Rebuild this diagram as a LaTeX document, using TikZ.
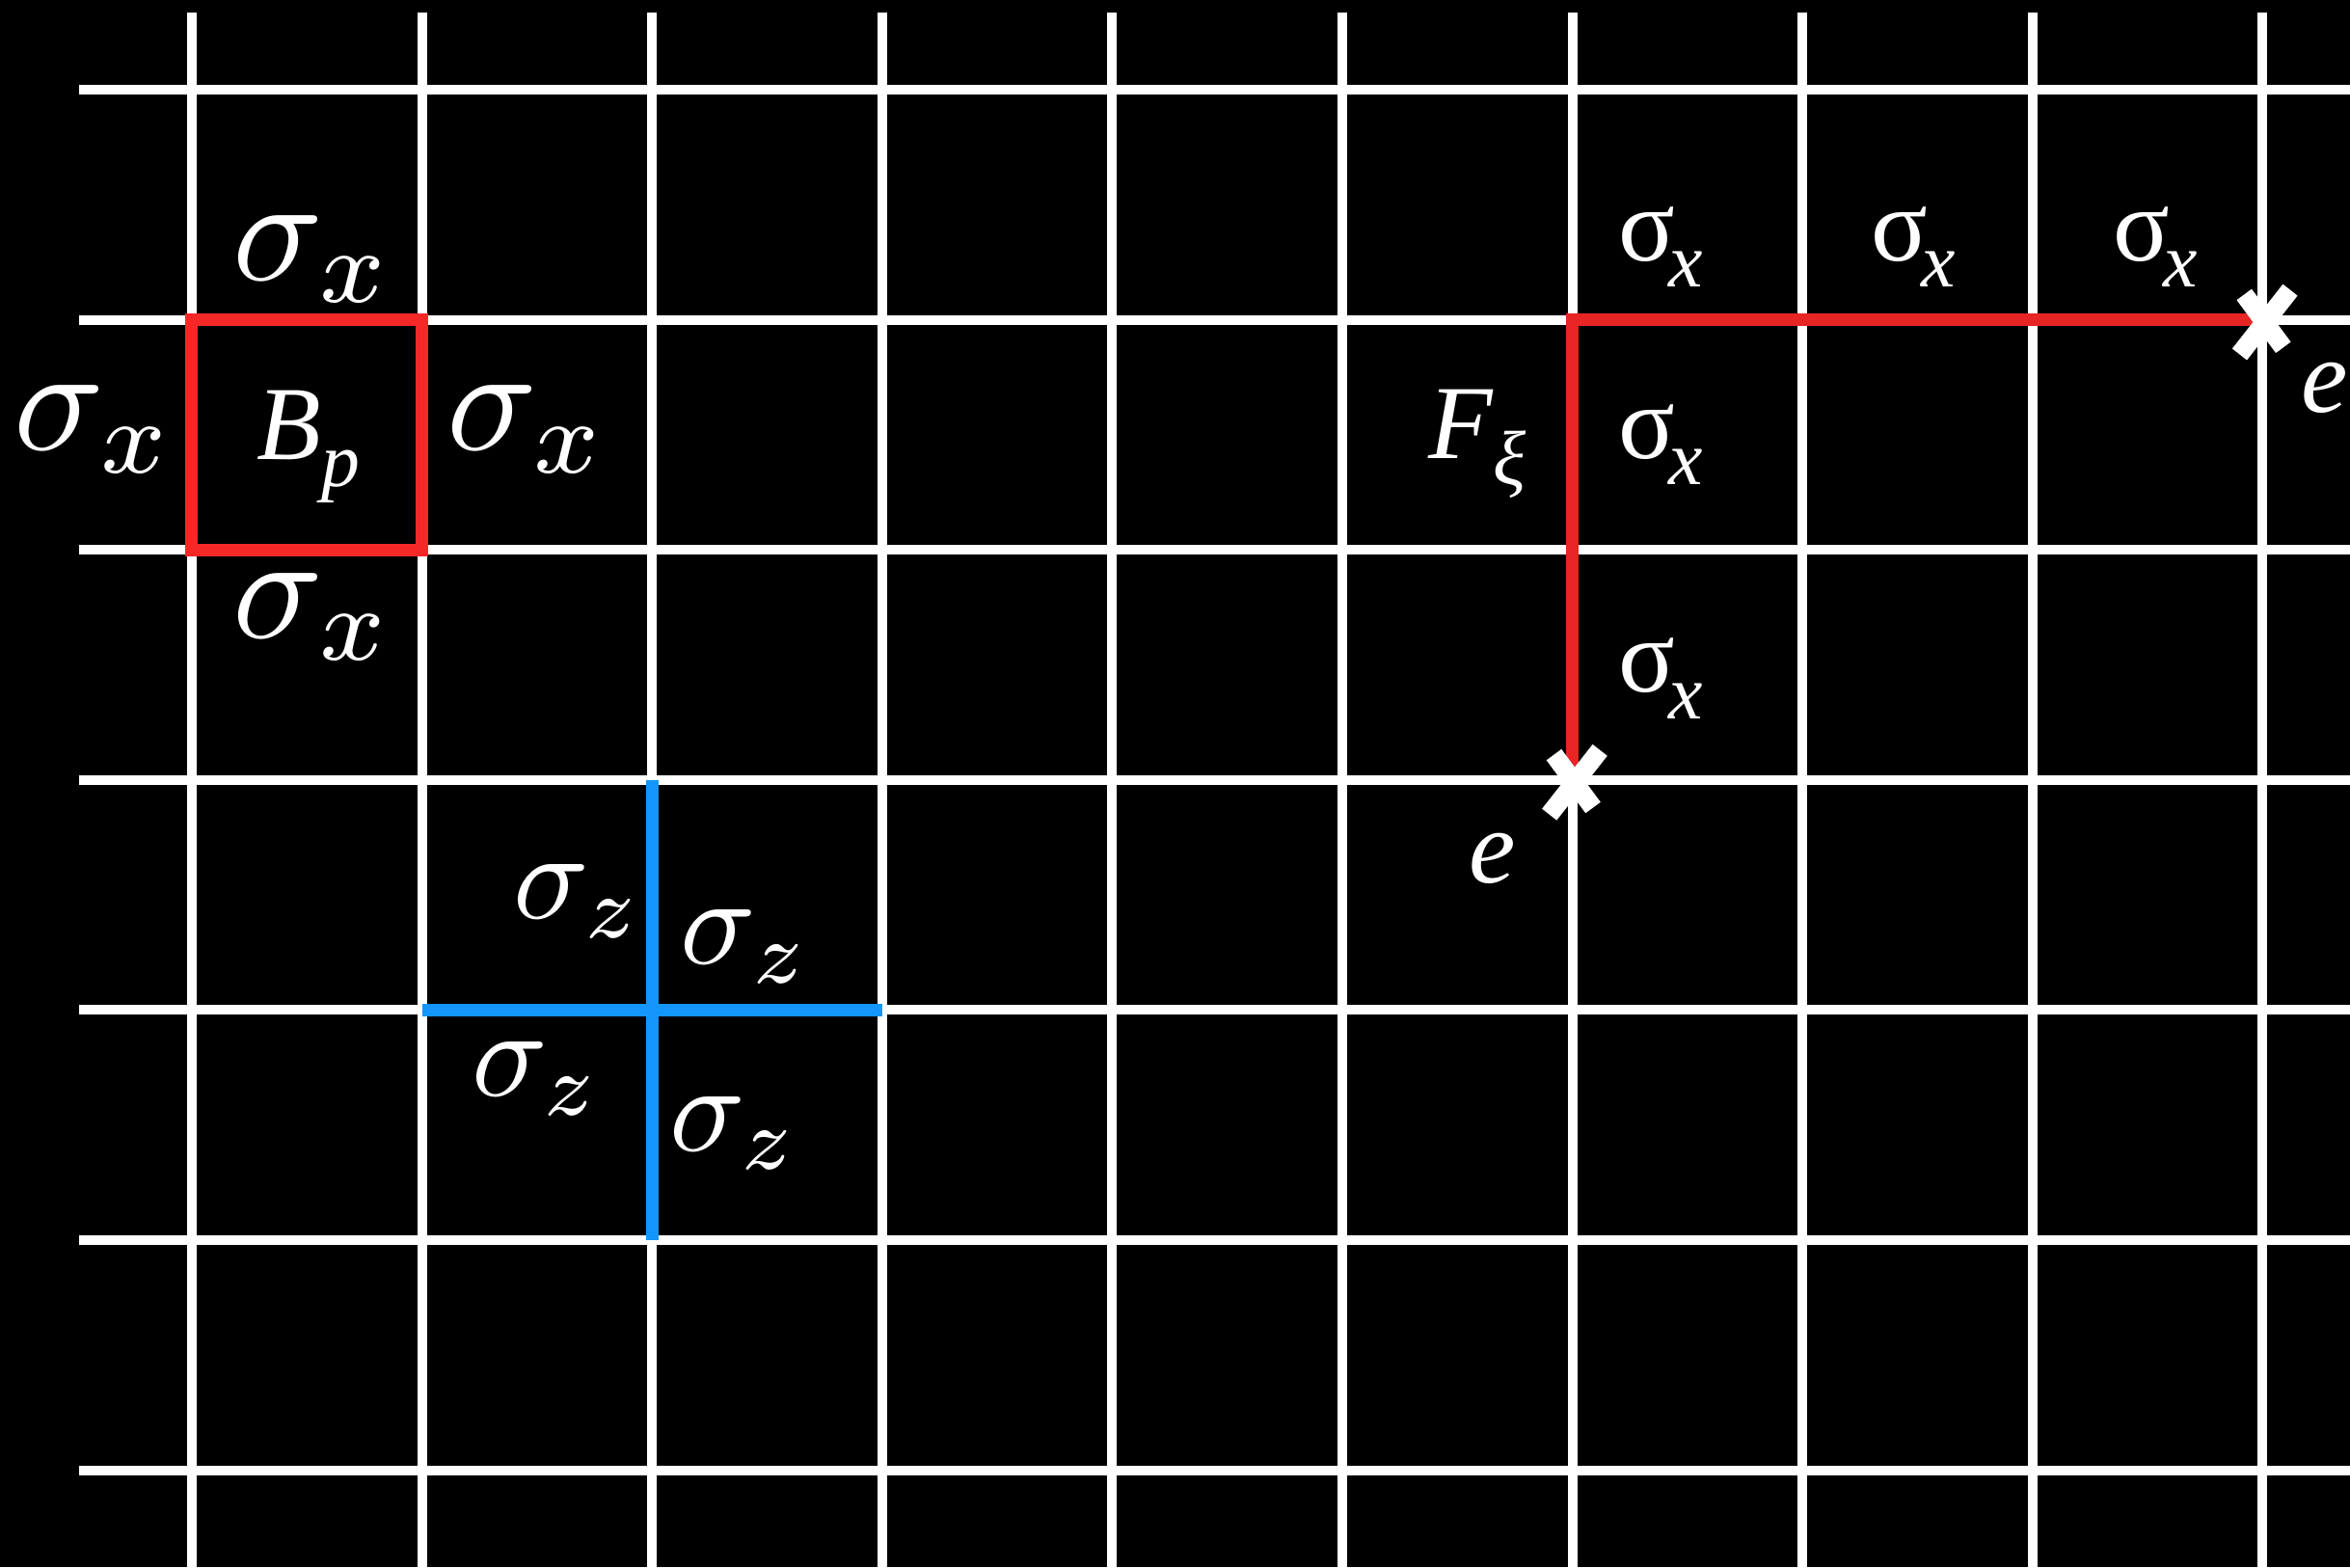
\documentclass[tikz,border=0pt]{standalone}
\usepackage{graphicx}
\usepackage{fontspec}
\newfontfamily\tnr{Liberation Serif}
\definecolor{plaqred}{RGB}{245, 40, 40}
\definecolor{stringred}{RGB}{232, 36, 36}
\definecolor{starblue}{RGB}{20, 150, 250}
\newcommand{\subsc}[1]{\raisebox{-0.25em}{\fontsize{9.5}{9.5}\selectfont #1}}
\newcommand{\tsigx}{{\upshape σ}\kern-0.06em\subsc{x}}

\begin{document}
\begin{tikzpicture}[
		lattice/.style={white, line width=1.19pt},
		oper/.style={line width=1.55pt},
		emark/.style={white, line width=2.3pt},
		lbl/.style={text=white, inner sep=0pt, anchor=base west},
		tms/.style={lbl, font=\fontsize{13}{15}\selectfont\tnr\itshape}
	]
		\fill[black] (-0.834,-6.421) rectangle (9.380,0.390);
		\useasboundingbox (-0.834,-6.421) rectangle (9.380,0.390);

		% lattice
		\foreach \i in {0,...,9}
			\draw[lattice] (\i,0.335) -- (\i,-6.5);
		\foreach \j in {0,...,6}
			\draw[lattice] (-0.49,-\j) -- (9.5,-\j);

		% plaquette
		\draw[oper, plaqred] (0,-1) rectangle (1,-2);
		\node[tms] (bp) at (0.277,-1.609) {B\subsc{p}};
		\node[lbl] (sxtop) at (0.172,-0.826) {\scalebox{1.85}{$\sigma_x$}};
		\node[lbl] (sxleft) at (-0.780,-1.567) {\scalebox{1.85}{$\sigma_x$}};
		\node[lbl] (sxright) at (1.102,-1.567) {\scalebox{1.85}{$\sigma_x$}};
		\node[lbl] (sxbot) at (0.172,-2.381) {\scalebox{1.85}{$\sigma_x$}};

		% star
		\draw[oper, starblue] (2,-3) -- (2,-5);
		\draw[oper, starblue] (1,-4) -- (3,-4);
		\node[lbl] (szul) at (1.391,-3.604) {\scalebox{1.55}{$\sigma_z$}};
		\node[lbl] (szur) at (2.117,-3.801) {\scalebox{1.55}{$\sigma_z$}};
		\node[lbl] (szll) at (1.211,-4.375) {\scalebox{1.55}{$\sigma_z$}};
		\node[lbl] (szlr) at (2.070,-4.610) {\scalebox{1.55}{$\sigma_z$}};

		% string operator
		\coordinate (ea) at (6,-3);
		\coordinate (corner) at (6,-1);
		\coordinate (eb) at (9,-1);
		\draw[oper, stringred] (ea) -- (corner) -- (eb);
		\foreach \e in {ea,eb} {
			\draw[emark] ([shift={(-0.08,0.11)}]\e) -- ([shift={(0.09,-0.12)}]\e);
			\draw[emark] ([shift={(0.12,0.13)}]\e) -- ([shift={(-0.10,-0.15)}]\e);
		}
		\node[tms] (fxi) at (5.369,-1.601) {F\subsc{ξ}};
		\node[tms] (sxa) at (6.195,-0.742) {\tsigx};
		\node[tms] (sxb) at (7.293,-0.742) {\tsigx};
		\node[tms] (sxc) at (8.345,-0.742) {\tsigx};
		\node[tms] (sxd) at (6.195,-1.601) {\tsigx};
		\node[tms] (sxe) at (6.195,-2.619) {\tsigx};
		\node[tms] (ela) at (5.545,-3.445) {e};
		\node[tms] (elb) at (9.162,-1.400) {e};
	\end{tikzpicture}
\end{document}
